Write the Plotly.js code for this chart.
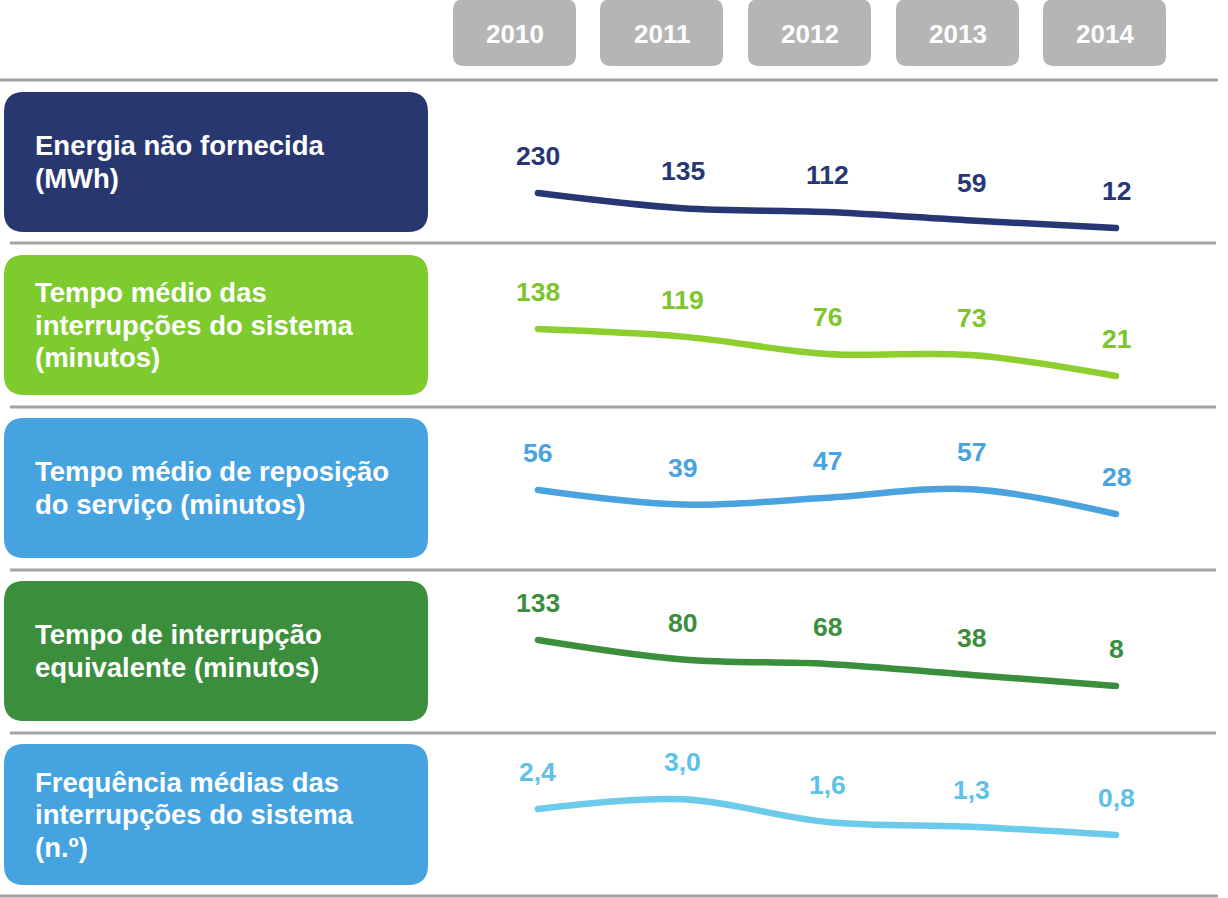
<!DOCTYPE html>
<html>
<head>
<meta charset="utf-8">
<script src="https://cdn.plot.ly/plotly-3.0.1.min.js"></script>
<style>
html,body{margin:0;padding:0;background:#fff;}
#chart{width:1228px;height:898px;}
.scatterlayer path.js-line{stroke-linecap:round;stroke-linejoin:round;}
</style>
</head>
<body>
<div id="chart"></div>
<script>
// ---- data ----
const years = [2010, 2011, 2012, 2013, 2014];
const energiaNaoFornecida = [230, 135, 112, 59, 12];
const tempoMedioInterrupcoes = [138, 119, 76, 73, 21];
const tempoMedioReposicao = [56, 39, 47, 57, 28];
const tempoInterrupcaoEquivalente = [133, 80, 68, 38, 8];
const frequenciaMedia = [2.4, 3.0, 1.6, 1.3, 0.8];
const rowLabels = [
  ["Energia não fornecida", "(MWh)"],
  ["Tempo médio das", "interrupções do sistema", "(minutos)"],
  ["Tempo médio de reposição", "do serviço (minutos)"],
  ["Tempo de interrupção", "equivalente (minutos)"],
  ["Frequência médias das", "interrupções do sistema", "(n.º)"]
];
const seriesList = [energiaNaoFornecida, tempoMedioInterrupcoes, tempoMedioReposicao, tempoInterrupcaoEquivalente, frequenciaMedia];
const decimals = [0, 0, 0, 0, 1];

// ---- style / layout ----
const W = 1228, H = 898;
const FONT = "Liberation Sans, Arial, sans-serif";
const boxColors = ["#28376f", "#7dcb2c", "#45a3e0", "#3a8e3c", "#45a3e0"];
const lineColors = ["#283774", "#8ccf2e", "#4aa3df", "#3b8e3c", "#6ccbea"];
const textColors = ["#283774", "#7cc52a", "#4aa3df", "#3b8e3c", "#5ec1e6"];
const rowBands = [[80, 243], [243, 407], [407, 570], [570, 733], [733, 896]];
const rowBoxes = [[92, 232], [255, 395], [418, 558], [581, 721], [744, 885]];
const yRanges = [[-81.3, 933.6], [-56.2, 352.1], [-37.3, 152.9], [-119.7, 323.2], [-2.954, 7.077]];
const yearBoxX = [453, 600, 748, 896, 1043];

const X = px => px / W;
const Y = py => 1 - py / H;
function rr(x0, y0, x1, y1, r) {
  const p = (a, b) => X(a).toFixed(5) + "," + Y(b).toFixed(5);
  return "M" + p(x0 + r, y0) + " L" + p(x1 - r, y0) + " Q" + p(x1, y0) + " " + p(x1, y0 + r) +
    " L" + p(x1, y1 - r) + " Q" + p(x1, y1) + " " + p(x1 - r, y1) +
    " L" + p(x0 + r, y1) + " Q" + p(x0, y1) + " " + p(x0, y1 - r) +
    " L" + p(x0, y0 + r) + " Q" + p(x0, y0) + " " + p(x0 + r, y0) + " Z";
}

const shapes = [];
const annotations = [];
const traces = [];
const layout = {
  width: W, height: H,
  margin: {l: 0, r: 0, t: 0, b: 0},
  paper_bgcolor: "#ffffff", plot_bgcolor: "rgba(0,0,0,0)",
  showlegend: false,
  xaxis: {range: [2006.277, 2014.775], visible: false, fixedrange: true},
  font: {family: FONT}
};

// year header boxes
years.forEach((yr, i) => {
  const x0 = yearBoxX[i];
  shapes.push({type: "path", xref: "paper", yref: "paper", path: rr(x0, -1, x0 + 123, 66, 11),
    fillcolor: "#b5b5b5", line: {width: 0}, layer: "below"});
  annotations.push({xref: "paper", yref: "paper", x: X(x0 + 61.5), y: Y(34), text: String(yr),
    showarrow: false, xanchor: "center", yanchor: "middle",
    font: {family: FONT, size: 26, color: "#ffffff", weight: 700}});
});

// separators
shapes.push({type: "line", xref: "paper", yref: "paper", x0: X(0), x1: X(1218), y0: Y(80), y1: Y(80), line: {color: "#a3a3a3", width: 3}});
[243, 407, 570, 733].forEach(py => {
  shapes.push({type: "line", xref: "paper", yref: "paper", x0: X(10), x1: X(1216), y0: Y(py), y1: Y(py), line: {color: "#a3a3a3", width: 3}});
});
shapes.push({type: "line", xref: "paper", yref: "paper", x0: X(0), x1: X(1218), y0: Y(896), y1: Y(896), line: {color: "#a3a3a3", width: 3}});

seriesList.forEach((vals, r) => {
  const axName = r === 0 ? "yaxis" : "yaxis" + (r + 1);
  const axRef = r === 0 ? "y" : "y" + (r + 1);
  const band = rowBands[r];
  layout[axName] = {domain: [Y(band[1]), Y(band[0])], range: yRanges[r], visible: false, fixedrange: true};
  if (r > 0) layout[axName].anchor = "x";

  // left label box
  const bx = rowBoxes[r];
  shapes.push({type: "path", xref: "paper", yref: "paper", path: rr(4, bx[0], 428, bx[1], 20),
    fillcolor: boxColors[r], line: {width: 0}, layer: "below"});
  const lines = rowLabels[r];
  const cy = (bx[0] + bx[1]) / 2;
  lines.forEach((t, k) => {
    const ly = cy + (k - (lines.length - 1) / 2) * 32.5;
    annotations.push({xref: "paper", yref: "paper", x: X(33), y: Y(ly), text: t, showarrow: false,
      xanchor: "left", yanchor: "middle", font: {family: FONT, size: 27.5, color: "#ffffff", weight: 700}});
  });

  traces.push({
    type: "scatter", mode: "lines", x: years, y: vals, xaxis: "x", yaxis: axRef,
    line: {color: lineColors[r], width: 6.5, shape: "spline", smoothing: 1},
    hoverinfo: "skip"
  });

  vals.forEach((v, i) => {
    const txt = decimals[r] ? v.toFixed(decimals[r]).replace(".", ",") : String(v);
    annotations.push({xref: "x", yref: axRef, x: years[i], y: v, text: txt, showarrow: false,
      xanchor: "center", yanchor: "middle", yshift: 37,
      font: {family: FONT, size: 26.5, color: textColors[r], weight: 700}});
  });
});

layout.shapes = shapes;
layout.annotations = annotations;

Plotly.newPlot("chart", traces, layout, {displayModeBar: false, staticPlot: true});
</script>
</body>
</html>
